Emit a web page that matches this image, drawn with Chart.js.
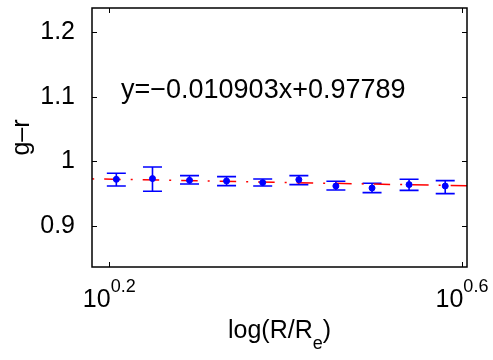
<!DOCTYPE html>
<html>
<head>
<meta charset="utf-8">
<script src="https://cdn.jsdelivr.net/npm/chart.js@4/dist/chart.umd.min.js"></script>
<style>
html, body { margin: 0; padding: 0; background: #fff; }
</style>
</head>
<body>
<canvas id="c" width="493" height="360"></canvas>
<script>
// x = log10(R/Re), y = g-r colour with error bar limits
const logR   = [0.208, 0.249, 0.291, 0.333, 0.374, 0.415, 0.457, 0.498, 0.540, 0.581];
const gr     = [0.9721, 0.9732, 0.9705, 0.9695, 0.9670, 0.9716, 0.9617, 0.9586, 0.9639, 0.9617];
const grHigh = [0.9814, 0.9912, 0.9778, 0.9763, 0.9726, 0.9778, 0.9690, 0.9659, 0.9721, 0.9701];
const grLow  = [0.9617, 0.9535, 0.9648, 0.9623, 0.9617, 0.9639, 0.9555, 0.9515, 0.9550, 0.9499];

// linear fit drawn across the axis
const fitX = [0.1804, 0.6057];
const fitY = [0.9728, 0.9620];
const fitText = 'y=\u22120.010903x+0.97789';

const xTicks = [0.2, 0.6];
const yTicks = [0.9, 1, 1.1, 1.2];

const FONT = '"Liberation Sans", Arial, Helvetica, sans-serif';
Chart.defaults.font.family = FONT;

// error bars, box, ticks and the text MATLAB-style
const matlabAxes = {
    id: 'matlabAxes',
    beforeDatasetsDraw(chart) {
        const ctx = chart.ctx;
        const xs = chart.scales.x, ys = chart.scales.y;
        ctx.save();
        ctx.strokeStyle = '#0000ff';
        ctx.lineWidth = 1.6;
        for (let i = 0; i < logR.length; i++) {
            const x = xs.getPixelForValue(logR[i]);
            const yh = ys.getPixelForValue(grHigh[i]);
            const yl = ys.getPixelForValue(grLow[i]);
            ctx.beginPath();
            ctx.moveTo(x, yh); ctx.lineTo(x, yl);
            ctx.moveTo(x - 9.5, yh); ctx.lineTo(x + 9.5, yh);
            ctx.moveTo(x - 9.5, yl); ctx.lineTo(x + 9.5, yl);
            ctx.stroke();
        }
        ctx.restore();
    },
    afterDraw(chart) {
        const ctx = chart.ctx;
        const a = chart.chartArea;
        const xs = chart.scales.x, ys = chart.scales.y;
        ctx.save();
        ctx.strokeStyle = '#000';
        ctx.lineWidth = 1.5;
        ctx.strokeRect(a.left, a.top, a.right - a.left, a.bottom - a.top);

        // ticks pointing inward
        ctx.lineWidth = 1;
        ctx.beginPath();
        yTicks.forEach(v => {
            const y = Math.round(ys.getPixelForValue(v)) + 0.5;
            ctx.moveTo(a.left, y); ctx.lineTo(a.left + 5, y);
            ctx.moveTo(a.right, y); ctx.lineTo(a.right - 5, y);
        });
        xTicks.forEach(v => {
            const x = Math.round(xs.getPixelForValue(v)) + 0.5;
            ctx.moveTo(x, a.bottom); ctx.lineTo(x, a.bottom - 5);
            ctx.moveTo(x, a.top); ctx.lineTo(x, a.top + 5);
        });
        ctx.stroke();

        ctx.fillStyle = '#000';
        ctx.textBaseline = 'alphabetic';

        // x tick labels 10^k
        xTicks.forEach(v => {
            const x = xs.getPixelForValue(v);
            ctx.font = '25px ' + FONT;
            const wb = ctx.measureText('10').width;
            ctx.font = '18px ' + FONT;
            const we = ctx.measureText(String(v)).width;
            const x0 = x - (wb + we) / 2;
            ctx.font = '25px ' + FONT;
            ctx.textAlign = 'left';
            ctx.fillText('10', x0, 307);
            ctx.font = '18px ' + FONT;
            ctx.fillText(String(v), x0 + wb, 292);
        });

        // x title with subscript
        const cx = (a.left + a.right) / 2;
        ctx.font = '25px ' + FONT;
        const t1 = 'log(R/R', t3 = ')';
        const w1 = ctx.measureText(t1).width, w3 = ctx.measureText(t3).width;
        ctx.font = '18px ' + FONT;
        const w2 = ctx.measureText('e').width;
        let tx = cx - (w1 + w2 + w3) / 2;
        ctx.textAlign = 'left';
        ctx.font = '25px ' + FONT;
        ctx.fillText(t1, tx, 338);
        ctx.font = '18px ' + FONT;
        ctx.fillText('e', tx + w1, 349);
        ctx.font = '25px ' + FONT;
        ctx.fillText(t3, tx + w1 + w2, 338);

        // y title
        ctx.save();
        ctx.translate(29, (a.top + a.bottom) / 2);
        ctx.rotate(-Math.PI / 2);
        ctx.textAlign = 'center';
        ctx.font = '25px ' + FONT;
        ctx.fillText('g\u2013r', 0, 0);
        ctx.restore();

        // fit equation
        ctx.font = '27px ' + FONT;
        ctx.textAlign = 'left';
        ctx.fillText(fitText, 121, 98);
        ctx.restore();
    }
};

new Chart(document.getElementById('c'), {
    type: 'scatter',
    data: {
        datasets: [{
            label: 'g-r',
            data: logR.map((x, i) => ({ x: x, y: gr[i] })),
            backgroundColor: '#0000ff',
            borderColor: '#0000ff',
            pointRadius: 3,
            showLine: false
        }, {
            type: 'line',
            label: 'fit',
            data: fitX.map((x, i) => ({ x: x, y: fitY[i] })),
            borderColor: '#ff0000',
            borderWidth: 1.5,
            borderDash: [16.5, 10, 2, 10],
            borderDashOffset: 26.3,
            pointRadius: 0,
            fill: false
        }]
    },
    options: {
        responsive: false,
        animation: false,
        devicePixelRatio: 1,
        layout: { padding: { left: 0, top: 8, right: 26, bottom: 0 } },
        plugins: { legend: { display: false }, tooltip: { enabled: false } },
        scales: {
            x: {
                type: 'linear',
                min: 0.1804,
                max: 0.6057,
                grid: { display: false },
                border: { display: false },
                ticks: { display: false },
                afterFit: s => { s.height = 93; }
            },
            y: {
                min: 0.836,
                max: 1.238,
                grid: { display: false },
                border: { display: false },
                afterBuildTicks: s => { s.ticks = yTicks.map(v => ({ value: v })); },
                ticks: {
                    color: '#000',
                    font: { size: 25 },
                    padding: 9,
                    callback: v => String(v)
                },
                afterFit: s => { s.width = 92; s.paddingTop = 0; s.paddingBottom = 0; }
            }
        }
    },
    plugins: [matlabAxes]
});
</script>
</body>
</html>
